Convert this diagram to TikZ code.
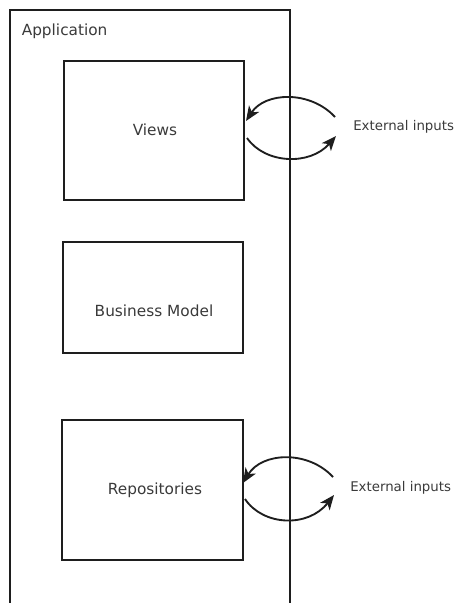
\documentclass[tikz,border=0pt]{standalone}
\usepackage{fontspec}
\setmainfont{DejaVu Sans}
\usetikzlibrary{arrows.meta}
\definecolor{linec}{HTML}{1E1E1E}
\definecolor{textc}{HTML}{3A3A3A}
\begin{document}
\begin{tikzpicture}[x=0.75pt,y=-0.75pt,
  boxstyle/.style={draw=linec,line width=1.5pt,minimum width=0pt,inner sep=0pt},
  labeltext/.style={text=textc,font=\fontsize{11.5pt}{13pt}\selectfont,inner sep=0pt},
  extlabel/.style={text=textc,font=\fontsize{10pt}{12pt}\selectfont,inner sep=0pt,anchor=west},
  arc/.style={draw=linec,line width=1.4pt,-{Stealth[length=11pt,width=9pt,inset=3pt]}}]
\useasboundingbox (0,0) rectangle (454,603);
% outer application frame (open at bottom)
\draw[linec,line width=1.5pt] (10,603) -- (10,10) -- (290,10) -- (290,603);
\node[labeltext,anchor=base west] (app) at (21.5,35) {Application};
% boxes
\draw[boxstyle] (64,61) rectangle (244,200);
\node[labeltext] (views) at (155,130) {Views};
\draw[boxstyle] (63,242) rectangle (243,353);
\node[labeltext] (bm) at (154,311) {Business Model};
\draw[boxstyle] (62,420) rectangle (243,560);
\node[labeltext] (repo) at (155,490) {Repositories};
% external labels
\node[extlabel] (ext1) at (353,127) {External inputs};
\node[extlabel] (ext2) at (350,488) {External inputs};
% coordinates
\coordinate (v1s) at (335,117);
\coordinate (v1e) at (246,121);
\coordinate (v2s) at (247,138);
\coordinate (v2e) at (336,136);
\coordinate (r1s) at (333,477);
\coordinate (r1e) at (243,483);
\coordinate (r2s) at (245,499);
\coordinate (r2e) at (334,495);
% arcs
\draw[arc] (v1s) .. controls (310,90) and (265,92) .. (v1e);
\draw[arc] (v2s) .. controls (265,164) and (310,166) .. (v2e);
\draw[arc] (r1s) .. controls (308,450) and (262,452) .. (r1e);
\draw[arc] (r2s) .. controls (263,526) and (308,528) .. (r2e);
\end{tikzpicture}
\end{document}
